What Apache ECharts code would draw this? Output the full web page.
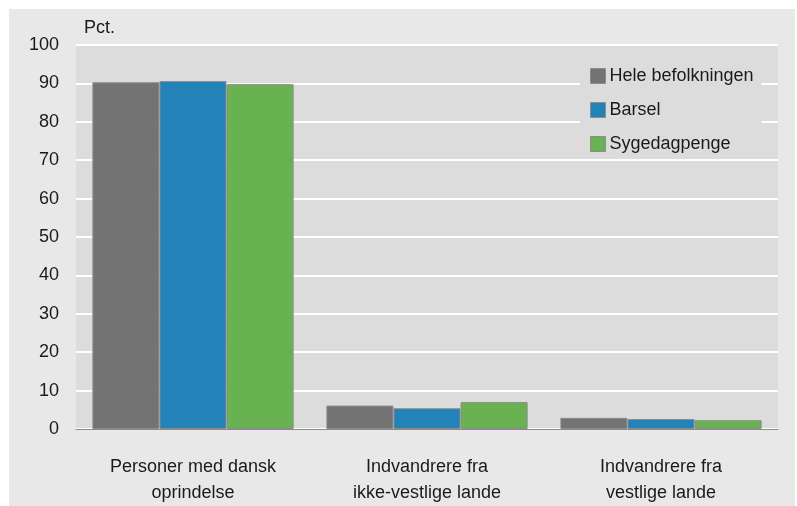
<!DOCTYPE html>
<html>
<head>
<meta charset="utf-8">
<script src="https://cdn.jsdelivr.net/npm/echarts@6/dist/echarts.min.js"></script>
<style>
  html, body { margin: 0; padding: 0; background: #fff; }
  #chart { width: 797px; height: 506px; }
</style>
</head>
<body>
<div id="chart"></div>
<script>
const categories = [
    'Personer med dansk\noprindelse',
    'Indvandrere fra\nikke-vestlige lande',
    'Indvandrere fra\nvestlige lande'
];
const seriesNames = ['Hele befolkningen', 'Barsel', 'Sygedagpenge'];
const heleValues = [90.3, 6.1, 2.9];
const barselValues = [90.6, 5.4, 2.6];
const sygeValues = [89.8, 7.0, 2.3];
const colors = ['#737373', '#2383b8', '#69b251'];

const font = '"Liberation Sans", Arial, sans-serif';
const chart = echarts.init(document.getElementById('chart'));

const makeSeries = (name, data, i) => ({
    name,
    type: 'bar',
    data,
    barGap: 0,
    barCategoryGap: '14%',
    itemStyle: { color: colors[i], borderColor: '#8c8c8c', borderWidth: 1 }
});

chart.setOption({
    animation: false,
    textStyle: { fontFamily: font },
    graphic: [{
        type: 'rect',
        z: -10,
        shape: { x: 9, y: 9, width: 786, height: 497 },
        style: { fill: '#e8e8e8' }
    }],
    grid: {
        left: 76, right: 19, top: 45, bottom: 76,
        show: true, backgroundColor: '#dcdcdc', borderWidth: 0
    },
    legend: {
        data: seriesNames,
        orient: 'vertical',
        left: 580,
        top: 61,
        padding: [6, 8, 6, 10],
        backgroundColor: '#dcdcdc',
        itemWidth: 15,
        itemHeight: 15,
        itemGap: 16,
        icon: 'rect',
        itemStyle: { borderColor: '#8c8c8c', borderWidth: 1 },
        textStyle: { fontFamily: font, fontSize: 18, color: '#1a1a1a', padding: [0, 0, 0, -1] }
    },
    xAxis: {
        type: 'category',
        data: categories,
        axisLine: { lineStyle: { color: '#8a8a8a', width: 1 } },
        axisTick: { show: false },
        axisLabel: {
            margin: 25, fontSize: 18, lineHeight: 26, color: '#1a1a1a', fontFamily: font
        }
    },
    yAxis: {
        type: 'value',
        min: 0, max: 100, interval: 10,
        name: 'Pct.',
        nameGap: 8,
        nameTextStyle: { align: 'left', fontSize: 18, color: '#1a1a1a', fontFamily: font, padding: [0, 0, 0, 8] },
        axisLine: { show: false },
        axisTick: { show: false },
        splitLine: { lineStyle: { color: '#ffffff', width: 2 } },
        axisLabel: { margin: 17, fontSize: 18, color: '#1a1a1a', fontFamily: font }
    },
    series: [
        makeSeries(seriesNames[0], heleValues, 0),
        makeSeries(seriesNames[1], barselValues, 1),
        makeSeries(seriesNames[2], sygeValues, 2)
    ]
});
</script>
</body>
</html>
